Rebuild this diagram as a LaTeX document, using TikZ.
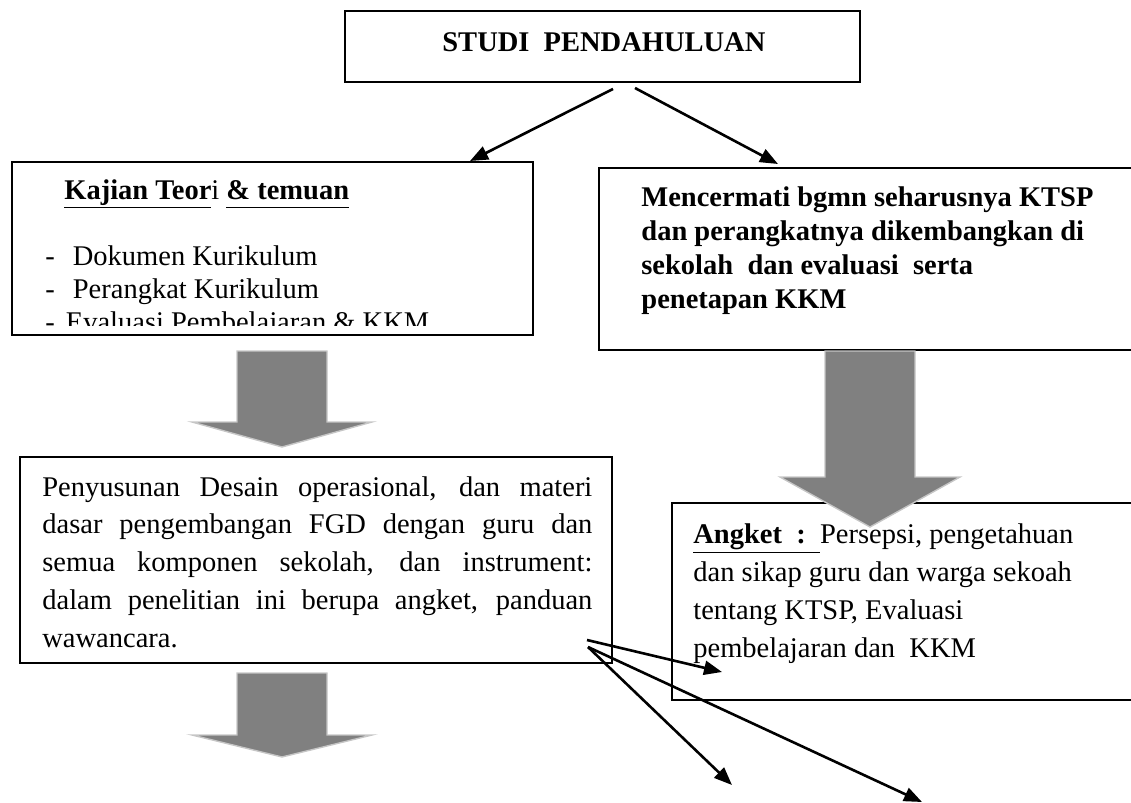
\documentclass[tikz,border=0pt]{standalone}
\usepackage{fontspec}
\setmainfont{Liberation Serif}
\usetikzlibrary{arrows.meta,positioning}

\begin{document}
\begin{tikzpicture}[x=0.5pt, y=-0.5pt,
  box/.style={draw, line width=1pt, inner sep=0pt, outer sep=0pt, anchor=north west},
  txt/.style={inner sep=0pt, anchor=base west, align=left},
  fat/.style={fill=gray, draw=gray!45, line width=0.7pt},
  link/.style={-{Triangle[length=9pt,width=7pt]}, line width=1.3pt}]

  \useasboundingbox (0,0) rectangle (1131,803);

  % Boxes
  \node[box, minimum width=257.5pt, minimum height=35.5pt] (studi) at (345,11) {};
  \node[box, minimum width=260.5pt, minimum height=86.5pt] (kajian) at (12,162) {};
  \node[box, minimum width=290pt, minimum height=91pt] (cermat) at (599,168) {};
  \node[box, minimum width=296pt, minimum height=103pt] (desain) at (20,457) {};
  \node[box, minimum width=250pt, minimum height=98.5pt] (angket) at (672,503) {};

  % Texts (placed at the baseline of their last line)
  \node[txt, font=\bfseries\fontsize{14.25}{17}\selectfont] (studitext) at (442,51) {STUDI\ \ PENDAHULUAN};
  \node[txt, font=\fontsize{14.25}{17}\selectfont] (kajianhead) at (64,199)
    {\textbf{\underline{Kajian Teor}}i \textbf{\underline{\vphantom{j}\& temuan}}};
  \begin{scope}
    \clip (kajian.north west) rectangle ([yshift=5pt]kajian.south east);
    \node[txt, font=\fontsize{14.25}{16.5}\selectfont] (kajianlist) at (45,331)
      {-\hspace{9pt}Dokumen Kurikulum\\ -\hspace{9pt}Perangkat Kurikulum\\ -\hspace{5.5pt}Evaluasi Pembelajaran \& KKM};
  \end{scope}
  \node[txt, font=\bfseries\fontsize{14.25}{17}\selectfont] (cermattext) at (641,308)
    {Mencermati bgmn seharusnya KTSP\\ dan perangkatnya dikembangkan di\\ sekolah\ \ dan evaluasi\ \ serta\\ penetapan KKM};
  \node[txt, font=\fontsize{14.25}{18.85}\selectfont] (desaintext) at (42,647)
    {\makebox[275pt][s]{Penyusunan Desain operasional, dan materi}\\
     \makebox[275pt][s]{dasar pengembangan FGD dengan guru dan}\\
     \makebox[275pt][s]{semua komponen sekolah, dan instrument:}\\
     \makebox[275pt][s]{dalam penelitian ini berupa angket, panduan}\\
     wawancara.};
  \node[txt, font=\fontsize{14.25}{19}\selectfont] (angkettext) at (693,657)
    {\underline{\textbf{Angket\ \ :\ \ }}Persepsi, pengetahuan\\ dan sikap guru dan warga sekoah\\ tentang KTSP, Evaluasi\\ pembelajaran dan\ \ KKM};

  % Block arrows
  \draw[fat] (237,351) -- (327,351) -- (327,422) -- (372,422) -- (282,447) -- (192,422) -- (237,422) -- cycle;
  \draw[fat] (825,351) -- (915,351) -- (915,477) -- (960,477) -- (870,527) -- (780,477) -- (825,477) -- cycle;
  \draw[fat] (237,673) -- (327,673) -- (327,735) -- (372,735) -- (282,757) -- (192,735) -- (237,735) -- cycle;

  % Thin arrows
  \draw[link] ([xshift=134pt, yshift=-3.5pt]studi.south west) -- ([xshift=229pt, yshift=0.5pt]kajian.north west);
  \draw[link] ([xshift=145pt, yshift=-3pt]studi.south west) -- ([xshift=89.5pt, yshift=2pt]cermat.north west);
  \coordinate (outA) at (732,785);
  \coordinate (outB) at (922,802);
  \draw[link] ([xshift=-12.5pt, yshift=11.5pt]desain.south east) -- ([xshift=25pt, yshift=14pt]angket.south west);
  \draw[link] ([xshift=-12pt, yshift=8pt]desain.south east) -- (outA);
  \draw[link] ([xshift=-12pt, yshift=8pt]desain.south east) -- (outB);
\end{tikzpicture}
\end{document}
